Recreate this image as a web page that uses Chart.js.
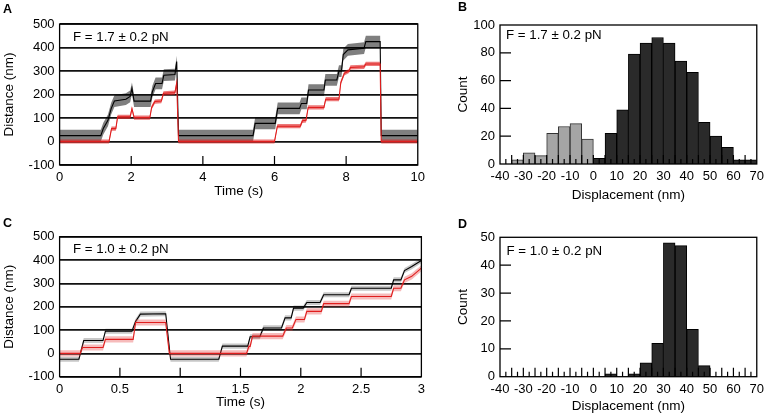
<!DOCTYPE html>
<html><head><meta charset="utf-8">
<script src="https://cdn.jsdelivr.net/npm/chart.js@4.4.0/dist/chart.umd.min.js"></script>
<style>
html,body{margin:0;padding:0;background:#fff;}
#wrap{position:relative;width:769px;height:417px;overflow:hidden;font-family:"Liberation Sans",Arial,Helvetica,sans-serif;color:#000;}
canvas{position:absolute;}
.lab{position:absolute;font-weight:bold;font-size:12.5px;line-height:12px;}
.ann{position:absolute;font-size:13.3px;line-height:13px;white-space:nowrap;}
</style></head><body><div id="wrap">
<canvas id="cA" width="430" height="205" style="left:0;top:0"></canvas>
<canvas id="cB" width="339" height="205" style="left:430px;top:0"></canvas>
<canvas id="cC" width="430" height="205" style="left:0;top:212px"></canvas>
<canvas id="cD" width="339" height="205" style="left:430px;top:212px"></canvas>
<div class="lab" style="left:3px;top:2.5px">A</div>
<div class="lab" style="left:458px;top:1.2px">B</div>
<div class="lab" style="left:3px;top:216.8px">C</div>
<div class="lab" style="left:458px;top:217.5px">D</div>
<div class="ann" style="left:73px;top:30px">F = 1.7 ± 0.2 pN</div>
<div class="ann" style="left:506px;top:28.4px">F = 1.7 ± 0.2 pN</div>
<div class="ann" style="left:73px;top:242.4px">F = 1.0 ± 0.2 pN</div>
<div class="ann" style="left:506.5px;top:244px">F = 1.0 ± 0.2 pN</div>
</div>
<script>
// ---------- Panel A: traces (time in s, distance in nm) ----------
const timeA_black = [0, 1.15, 1.22, 1.35, 1.44, 1.53, 1.85, 1.97, 2.02, 2.08, 2.54, 2.59, 2.68, 2.86, 2.91, 3.22, 3.27, 3.32, 5.40, 5.46, 6.02, 6.09, 6.70, 6.75, 6.90, 6.95, 7.38, 7.42, 7.74, 7.80, 7.87, 7.92, 8.05, 8.50, 8.55, 8.95, 8.98, 10];
const distA_black = [25, 25, 55, 90, 140, 172, 180, 192, 226, 172, 172, 212, 247, 247, 282, 285, 340, 25, 25, 77, 77, 141, 141, 162, 162, 219, 219, 262, 262, 300, 300, 370, 390, 397, 425, 425, 25, 25];
const timeA_red = [0, 1.38, 1.45, 1.57, 1.62, 1.97, 2.02, 2.08, 2.52, 2.57, 2.66, 2.84, 2.90, 3.22, 3.27, 3.32, 6.00, 6.08, 6.72, 6.78, 6.88, 6.94, 7.38, 7.43, 7.80, 7.85, 7.95, 8.08, 8.12, 8.50, 8.55, 8.95, 8.98, 10];
const distA_red = [0, 0, 55, 55, 105, 105, 140, 102, 102, 145, 170, 172, 205, 208, 250, 0, 0, 65, 65, 88, 90, 145, 145, 180, 180, 250, 290, 300, 315, 318, 330, 330, 0, 0];

// ---------- Panel C: traces ----------
const timeC_black = [0, 0.16, 0.20, 0.36, 0.38, 0.60, 0.63, 0.67, 0.88, 0.92, 1.32, 1.35, 1.56, 1.58, 1.66, 1.69, 1.84, 1.87, 1.92, 1.94, 2.02, 2.05, 2.16, 2.19, 2.40, 2.42, 2.75, 2.77, 2.83, 2.86, 2.92, 3.0];
const distC_black = [-25, -25, 55, 55, 95, 95, 137, 168, 170, -25, -25, 31, 31, 71, 71, 109, 109, 152, 152, 194, 194, 218, 218, 251, 251, 279, 279, 315, 315, 355, 372, 398];
const timeC_red = [0, 0.17, 0.19, 0.36, 0.38, 0.61, 0.63, 0.88, 0.91, 1.55, 1.57, 1.58, 1.60, 1.85, 1.88, 1.93, 1.96, 2.03, 2.05, 2.17, 2.19, 2.40, 2.42, 2.75, 2.77, 2.83, 2.86, 2.92, 3.0];
const distC_red = [0, 0, 25, 25, 60, 60, 132, 132, 0, 0, 30, 30, 74, 74, 109, 109, 145, 145, 180, 180, 213, 213, 244, 244, 279, 279, 315, 330, 365];

// visual noise half-widths of the traces (nm)
const NOISE_A_BLACK = 25, NOISE_A_RED = 9, NOISE_C_BLACK = 11, NOISE_C_RED = 13;

// ---------- Panel B / D: histograms (bin start in nm, counts) ----------
const BIN_WIDTH = 5;
const grayBinsB = [-35, -30, -25, -20, -15, -10, -5];
const grayCountsB = [3, 8, 6, 22, 27, 29, 18];
const darkBinsB = [0, 5, 10, 15, 20, 25, 30, 35, 40, 45, 50, 55, 60, 65];
const darkCountsB = [4, 22, 39, 79, 87, 91, 87, 74, 66, 30, 20, 12, 3, 3];
const darkBinsD = [5, 10, 15, 20, 25, 30, 35, 40, 45];
const darkCountsD = [1, 0, 1, 5, 12, 48, 47, 17, 4];

// ---------- tick labels ----------
const ticksA_x = [0, 2, 4, 6, 8, 10];
const ticksC_x = [0, 0.5, 1, 1.5, 2, 2.5, 3];
const ticksAC_y = [-100, 0, 100, 200, 300, 400, 500];
const ticksBD_x = [-40, -30, -20, -10, 0, 10, 20, 30, 40, 50, 60, 70];
const ticksB_y = [0, 20, 40, 60, 80, 100];
const ticksD_y = [0, 10, 20, 30, 40, 50];
// inner tick marks
const marksA_x = [2, 4, 6, 8];
const marksC_x = [0.5, 1, 1.5, 2, 2.5];
const marksBD_major = [-35, -30, -25, -20, -15, -10, -5, 0, 5, 10, 15, 20, 25, 30, 35, 40, 45, 50, 55, 60, 65];
const marksBD_minor = [-37.5, -32.5, -27.5, -22.5, -17.5, -12.5, -7.5, -2.5, 2.5, 7.5, 12.5, 17.5, 22.5, 27.5, 32.5, 37.5, 42.5, 47.5, 52.5, 57.5, 62.5, 67.5];
const marksB_y = [20, 40, 60, 80];
const marksD_y = [10, 20, 30, 40];

const FONT = '"Liberation Sans", Arial, Helvetica, sans-serif';
Chart.defaults.font.family = FONT;
Chart.defaults.font.size = 13;
Chart.defaults.color = '#000';

const pts = (xs, ys, off) => xs.map((x, i) => ({x: x, y: ys[i] + (off || 0)}));
const bars = (bins, counts) => bins.map((b, i) => ({x: b + BIN_WIDTH / 2, y: counts[i] === 0 ? null : counts[i]}));
const setTicks = arr => s => { s.ticks = arr.map(v => ({value: v})); };

const frameTicks = {
  id: 'frameTicks',
  afterDatasetsDraw(chart, args, o) {
    const {ctx, chartArea: a, scales: {x, y}} = chart;
    ctx.save();
    ctx.strokeStyle = '#000';
    ctx.lineWidth = 1.3;
    ctx.strokeRect(a.left, a.top, a.right - a.left, a.bottom - a.top);
    ctx.lineWidth = 1.2;
    ctx.beginPath();
    (o.xMajor || []).forEach(v => { const p = x.getPixelForValue(v); ctx.moveTo(p, a.bottom); ctx.lineTo(p, a.bottom - o.majorLen); });
    (o.xMinor || []).forEach(v => { const p = x.getPixelForValue(v); ctx.moveTo(p, a.bottom); ctx.lineTo(p, a.bottom - o.minorLen); });
    (o.yMarks || []).forEach(v => { const p = y.getPixelForValue(v); ctx.moveTo(a.left, p); ctx.lineTo(a.left + o.yLen, p); });
    ctx.stroke();
    ctx.restore();
  }
};
Chart.register(frameTicks);

function band(xs, ys, half, color, order) {
  return [
    {data: pts(xs, ys, half), showLine: true, fill: '+1', backgroundColor: color, borderColor: 'rgba(0,0,0,0)', borderWidth: 0, pointRadius: 0, order: order},
    {data: pts(xs, ys, -half), showLine: true, fill: false, borderColor: 'rgba(0,0,0,0)', borderWidth: 0, pointRadius: 0, order: order}
  ];
}

function traceChart(id, cfg) {
  const ds = [].concat(
    band(cfg.bx, cfg.by, cfg.bHalf, cfg.bColor, 4),
    [{data: pts(cfg.bx, cfg.by), showLine: true, borderColor: '#000', borderWidth: 1.1, pointRadius: 0, fill: false, order: 3}],
    band(cfg.rx, cfg.ry, cfg.rHalf, cfg.rColor, 2),
    [{data: pts(cfg.rx, cfg.ry), showLine: true, borderColor: '#e01e1e', borderWidth: 1.1, pointRadius: 0, fill: false, order: 1}]
  );
  return new Chart(document.getElementById(id), {
    type: 'scatter',
    data: {datasets: ds},
    options: {
      responsive: false, animation: false, devicePixelRatio: 1,
      layout: {padding: {top: cfg.padTop, right: 8.4, bottom: 0, left: 0}},
      plugins: {legend: {display: false}, tooltip: {enabled: false}, filler: {propagate: false},
        frameTicks: {xMajor: cfg.marks, majorLen: 9}},
      scales: {
        x: {type: 'linear', min: cfg.xmin, max: cfg.xmax, afterBuildTicks: setTicks(cfg.xticks),
          afterFit: s => { s.height = cfg.xH; },
          grid: {display: false, drawTicks: false}, border: {display: false},
          ticks: {padding: 5, autoSkip: false, maxRotation: 0, callback: v => String(v)},
          title: {display: true, text: 'Time (s)', font: {size: 13.5}, padding: {top: 0, bottom: cfg.xTitlePad}}},
        y: {type: 'linear', min: -100, max: 500, afterBuildTicks: setTicks(ticksAC_y),
          afterFit: s => { s.width = 59.6; },
          grid: {color: '#111', lineWidth: 1.7, drawTicks: false}, border: {display: false},
          ticks: {padding: 5, autoSkip: false, callback: v => String(v)},
          title: {display: true, text: 'Distance (nm)', font: {size: 13.5}, padding: {top: 1.2, bottom: 0}}}
      }
    }
  });
}

function histChart(id, cfg) {
  return new Chart(document.getElementById(id), {
    type: 'bar',
    data: {datasets: cfg.sets.map(s => ({
      data: s.data, backgroundColor: s.fill, borderColor: s.stroke, borderWidth: 1,
      barPercentage: 1, categoryPercentage: 1, grouped: false
    }))},
    options: {
      responsive: false, animation: false, devicePixelRatio: 1,
      layout: {padding: {top: cfg.padTop, right: 9, bottom: 0, left: 0}},
      plugins: {legend: {display: false}, tooltip: {enabled: false},
        frameTicks: {xMajor: marksBD_major, xMinor: marksBD_minor, majorLen: 9, minorLen: 5, yMarks: cfg.ymarks, yLen: 11}},
      scales: {
        x: {type: 'linear', min: -40, max: 70, offset: false, afterBuildTicks: setTicks(ticksBD_x),
          afterFit: s => { s.height = cfg.xH; },
          grid: {display: false, drawTicks: false, offset: false}, border: {display: false},
          ticks: {padding: 5, autoSkip: false, maxRotation: 0, callback: v => String(v)},
          title: {display: true, text: 'Displacement (nm)', font: {size: 13.5}, padding: {top: 0, bottom: cfg.xTitlePad}}},
        y: {type: 'linear', min: 0, max: cfg.ymax, afterBuildTicks: setTicks(cfg.yticks),
          afterFit: s => { s.width = 70; },
          grid: {display: false, drawTicks: false}, border: {display: false},
          ticks: {padding: 5, autoSkip: false, callback: v => String(v)},
          title: {display: true, text: 'Count', font: {size: 13.5}, padding: {top: 25, bottom: 0}}}
      }
    }
  });
}

traceChart('cA', {bx: timeA_black, by: distA_black, rx: timeA_red, ry: distA_red,
  bHalf: NOISE_A_BLACK, bColor: 'rgba(0,0,0,0.5)', rHalf: NOISE_A_RED, rColor: 'rgba(225,30,30,0.6)',
  padTop: 24, xH: 40, xTitlePad: 5.2, xmin: 0, xmax: 10, xticks: ticksA_x, marks: marksA_x});
traceChart('cC', {bx: timeC_black, by: distC_black, rx: timeC_red, ry: distC_red,
  bHalf: NOISE_C_BLACK, bColor: 'rgba(0,0,0,0.22)', rHalf: NOISE_C_RED, rColor: 'rgba(230,60,60,0.35)',
  padTop: 24.7, xH: 40.3, xTitlePad: 6.2, xmin: 0, xmax: 3, xticks: ticksC_x, marks: marksC_x});
histChart('cB', {padTop: 25, xH: 41, xTitlePad: 2, ymax: 100, yticks: ticksB_y, ymarks: marksB_y,
  sets: [{data: bars(grayBinsB, grayCountsB), fill: '#a5a5a5', stroke: '#333'},
         {data: bars(darkBinsB, darkCountsB), fill: '#2a2a2a', stroke: '#000'}]});
histChart('cD', {padTop: 25.3, xH: 40.3, xTitlePad: 2.3, ymax: 50, yticks: ticksD_y, ymarks: marksD_y,
  sets: [{data: bars(darkBinsD, darkCountsD), fill: '#2a2a2a', stroke: '#000'}]});
</script></body></html>
